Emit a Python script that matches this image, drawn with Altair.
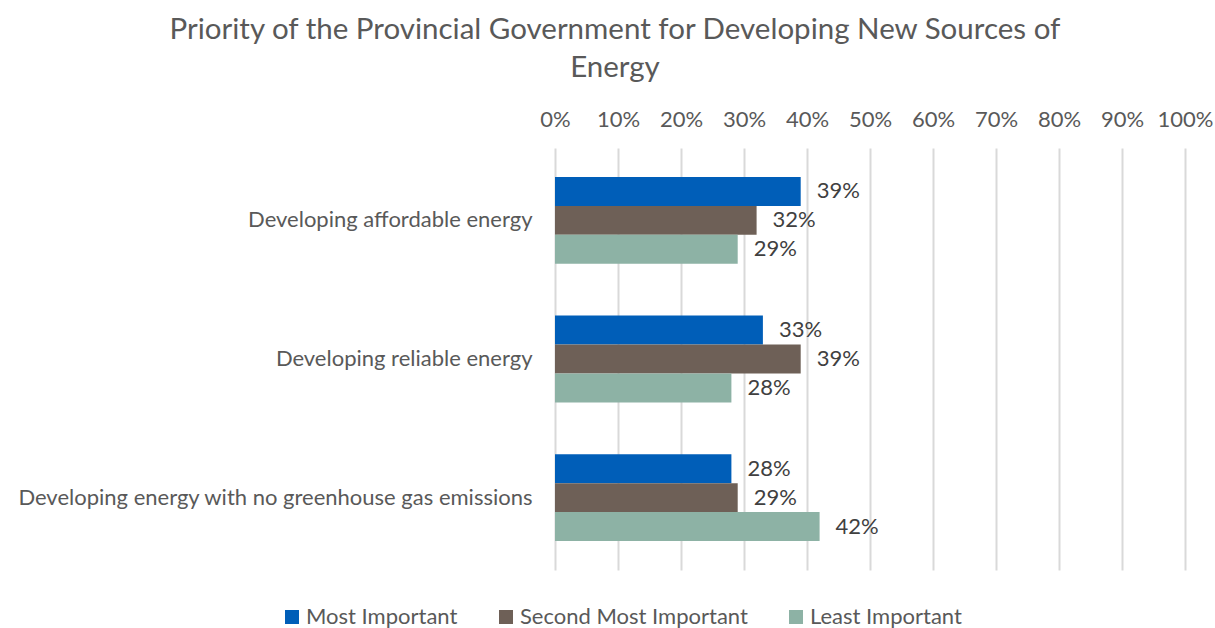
import altair as alt
import pandas as pd

categories = ["Developing affordable energy", "Developing reliable energy",
              "Developing energy with no greenhouse gas emissions"]
series = ["Most Important", "Second Most Important", "Least Important"]
most = [39, 33, 28]
second = [32, 39, 29]
least = [29, 28, 42]
colors = ["#005EB8", "#6E6057", "#8DB2A5"]

rows = []
for i, c in enumerate(categories):
    for s, vals in zip(series, [most, second, least]):
        rows.append({"category": c, "series": s, "value": vals[i] / 100.0})
df = pd.DataFrame(rows)

font = "Lato"
txt = "#595959"
fs = 22

y = alt.Y("category:N", sort=categories, title=None,
          scale=alt.Scale(paddingInner=0.374, paddingOuter=0.209),
          axis=alt.Axis(ticks=False, domain=False, labelFontSize=fs, labelColor=txt,
                        labelFont=font, labelPadding=23, labelLimit=700))
yoff = alt.YOffset("series:N", sort=series, scale=alt.Scale(paddingInner=0, paddingOuter=0))
x = alt.X("value:Q", title=None,
          scale=alt.Scale(domain=[0, 1]),
          axis=alt.Axis(orient="top", format=".0%", values=[i / 10 for i in range(11)],
                        ticks=False, domain=False, labelFontSize=fs, labelColor=txt,
                        labelFont=font, labelPadding=17, labelOverlap=False, labelFlush=False,
                        gridColor="#D9D9D9", gridWidth=2))

bars = alt.Chart(df).mark_bar().encode(
    x=x, y=y, yOffset=yoff,
    color=alt.Color("series:N", sort=series,
                    scale=alt.Scale(domain=series, range=colors),
                    legend=alt.Legend(orient="none", legendX=-274, legendY=458,
                                      direction="horizontal", title=None,
                                      symbolType="square", symbolSize=196, symbolStrokeWidth=0,
                                      symbolOffset=0, labelOffset=3,
                                      labelFontSize=fs, labelColor=txt, labelFont=font,
                                      labelLimit=500, columnPadding=37, padding=0)),
)
labels = alt.Chart(df).mark_text(align="left", dx=16, fontSize=fs, color="#404040", font=font).encode(
    x="value:Q", y=alt.Y("category:N", sort=categories), yOffset=yoff,
    text=alt.Text("value:Q", format=".0%"),
)

chart = (bars + labels).properties(
    width=630, height=422,
    title=alt.TitleParams(["Priority of the Provincial Government for Developing New Sources of", "Energy"],
                          fontSize=29.5, font=font, color=txt, fontWeight="normal",
                          anchor="middle", frame="bounds", offset=25, lineHeight=38),
    padding={"left": 16, "top": 14, "right": 0, "bottom": 0},
).configure_view(stroke=None)

chart.save("out.html", embed_options={"renderer": "svg", "actions": False})
